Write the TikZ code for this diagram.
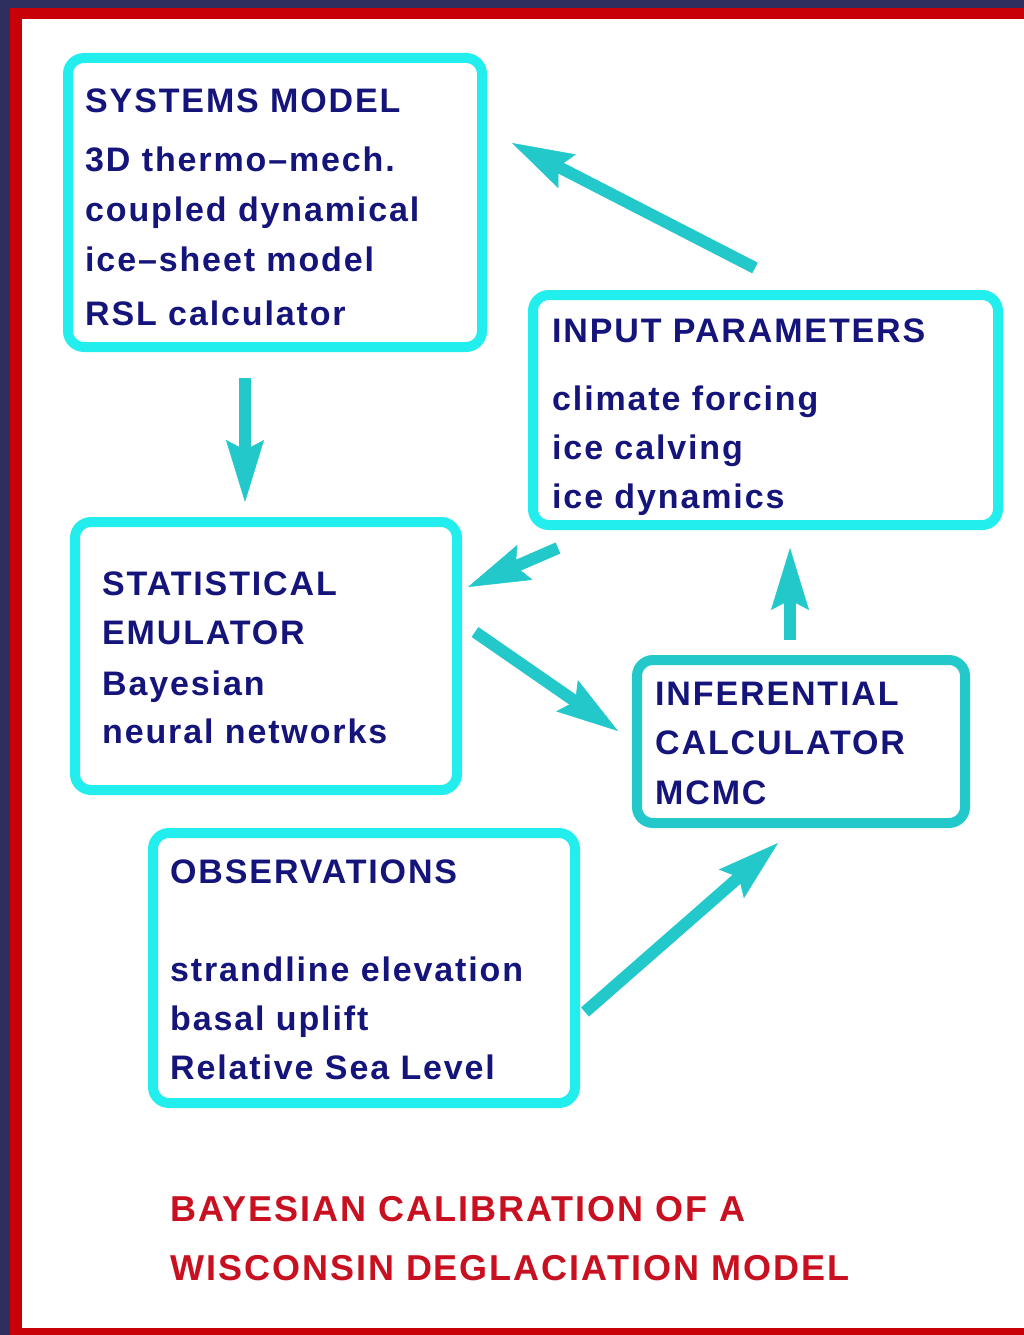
\documentclass[tikz,border=0pt]{standalone}
\usepackage{fontspec}
\setmainfont{Liberation Sans}
\newfontfamily\boxfont{Liberation Sans}[LetterSpace=5.5]
\usetikzlibrary{arrows.meta}
\definecolor{navybg}{HTML}{2E2F5F}
\definecolor{framered}{HTML}{C80008}
\definecolor{boxcyan}{HTML}{22EEEE}
\definecolor{arrcyan}{HTML}{22C8CA}
\definecolor{txtblue}{HTML}{14147A}
\definecolor{titlered}{HTML}{C81020}
\tikzset{
  box/.style={draw=boxcyan, line width=10pt, rounded corners=16pt, inner sep=0pt, outer sep=0pt},
  txt/.style={text=txtblue, font=\boxfont\bfseries\fontsize{34}{35}\selectfont, inner sep=0pt, anchor=base west},
  ttl/.style={text=titlered, font=\boxfont\bfseries\fontsize{36}{37}\selectfont, inner sep=0pt, anchor=base west},
  arr/.style={draw=arrcyan, line width=12pt, -{Stealth[length=62pt,width=38pt,inset=10pt,line width=0.5pt]}}
}
\begin{document}
\begin{tikzpicture}[x=1pt,y=-1pt]
\useasboundingbox (0,0) rectangle (1024,1335);
\fill[navybg] (0,0) rectangle (1024,1335);
\fill[framered] (10,8) rectangle (1024,1335);
\fill[white] (22,19) rectangle (1024,1328);

% boxes
\node[box, minimum width=414pt, minimum height=289pt] (sys) at (275,202.5) {};
\node[box, minimum width=465pt, minimum height=230pt] (inp) at (765.5,410) {};
\node[box, minimum width=382pt, minimum height=268pt] (stat) at (266,656) {};
\node[box, draw=arrcyan, minimum width=328pt, minimum height=163pt] (inf) at (801,741.5) {};
\node[box, minimum width=422pt, minimum height=270pt] (obs) at (364,968) {};

% texts
\node[txt] (sys1) at (85,113) {SYSTEMS MODEL};
\node[txt] (sys2) at (85,171) {3D thermo\textendash mech.};
\node[txt] (sys3) at (85,221) {coupled dynamical};
\node[txt] (sys4) at (85,271) {ice\textendash sheet model};
\node[txt] (sys5) at (85,325) {RSL calculator};

\node[txt] (inp1) at (552,342) {INPUT PARAMETERS};
\node[txt] (inp2) at (552,410) {climate forcing};
\node[txt] (inp3) at (552,459) {ice calving};
\node[txt] (inp4) at (552,508) {ice dynamics};

\node[txt] (stat1) at (102,595) {STATISTICAL};
\node[txt] (stat2) at (102,644) {EMULATOR};
\node[txt] (stat3) at (102,695) {Bayesian};
\node[txt] (stat4) at (102,743) {neural networks};

\node[txt] (inf1) at (655,705) {INFERENTIAL};
\node[txt] (inf2) at (655,754) {CALCULATOR};
\node[txt] (inf3) at (655,804) {MCMC};

\node[txt] (obs1) at (170,883) {OBSERVATIONS};
\node[txt] (obs2) at (170,981) {strandline elevation};
\node[txt] (obs3) at (170,1030) {basal uplift};
\node[txt] (obs4) at (170,1079) {Relative Sea Level};

\node[ttl] (t1) at (170,1221) {BAYESIAN CALIBRATION OF A};
\node[ttl] (t2) at (170,1280) {WISCONSIN DEGLACIATION MODEL};

% arrow end points
\coordinate (a1s) at (755,268); \coordinate (a1e) at (512,143);
\coordinate (a2s) at (245,378); \coordinate (a2e) at (245,502);
\coordinate (a3s) at (558,548); \coordinate (a3e) at (468,587);
\coordinate (a4s) at (475,632); \coordinate (a4e) at (618,731);
\coordinate (a5s) at (790,640); \coordinate (a5e) at (790,548);
\coordinate (a6s) at (585,1012); \coordinate (a6e) at (778,843);

\draw[arr] (a1s) -- (a1e);
\draw[arr] (a2s) -- (a2e);
\draw[arr] (a3s) -- (a3e);
\draw[arr] (a4s) -- (a4e);
\draw[arr] (a5s) -- (a5e);
\draw[arr] (a6s) -- (a6e);
\end{tikzpicture}
\end{document}
